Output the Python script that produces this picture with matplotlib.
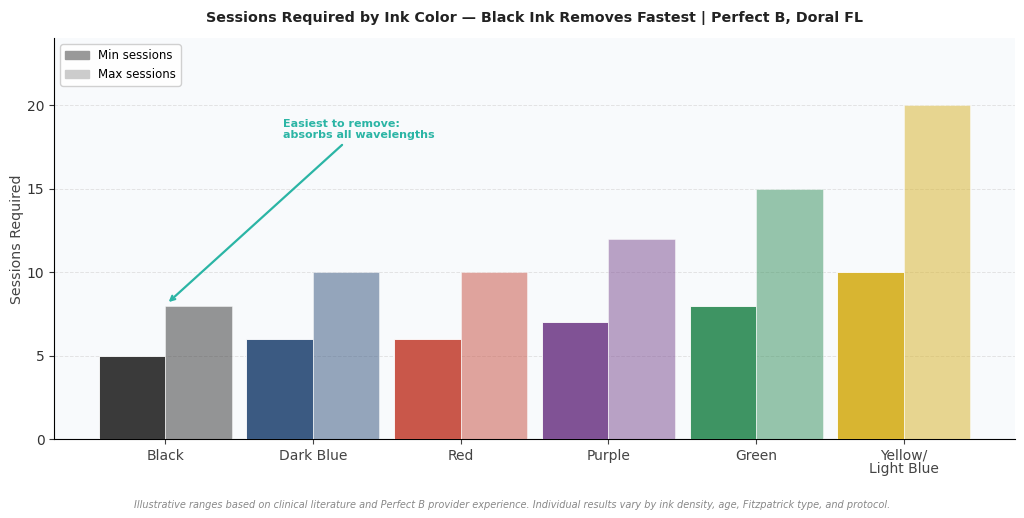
import numpy as np
import matplotlib.pyplot as plt
from matplotlib.patches import Patch

# Data
colors_ink = ['Black', 'Dark Blue', 'Red', 'Purple', 'Green', 'Yellow/\nLight Blue']
min_sessions = [5, 6, 6, 7, 8, 10]
max_sessions = [8, 10, 10, 12, 15, 20]
bar_colors = ['#3a3a3a', '#3b5a82', '#c9574a', '#805295', '#3e9463', '#d8b531']

fig, ax = plt.subplots(figsize=(10.24, 5.18), dpi=100)
fig.subplots_adjust(left=0.053, right=0.991, top=0.926, bottom=0.152)
ax.set_facecolor('#f8fafc')

x = np.arange(len(colors_ink))
w = 0.45
ax.bar(x - w / 2, min_sessions, w, color=bar_colors, edgecolor='white', linewidth=0.6, zorder=3)
ax.bar(x + w / 2, max_sessions, w, color=bar_colors, alpha=0.53, edgecolor='white', linewidth=0.6, zorder=3)

ax.set_xticks(x)
ax.set_xticklabels(colors_ink, fontsize=10, color='#444444')
for lbl in ax.get_xticklabels():
    lbl.set_linespacing(0.95)
ax.set_xlim(-0.75, 5.75)
ax.set_ylim(0, 24)
ax.set_yticks([0, 5, 10, 15, 20])
ax.tick_params(axis='y', labelsize=10, colors='#333333')
ax.tick_params(axis='x', colors='#444444')
ax.set_ylabel('Sessions Required', fontsize=10.2, color='#444444', labelpad=2)
ax.grid(axis='y', linestyle='--', color='#dddddd', linewidth=0.7, alpha=0.8, zorder=0)
ax.spines['top'].set_visible(False)
ax.spines['right'].set_visible(False)

ax.set_title('Sessions Required by Ink Color \u2014 Black Ink Removes Fastest | Perfect B, Doral FL',
             fontsize=10.3, fontweight='bold', color='#222222', pad=12)

handles = [Patch(color='#999999', label='Min sessions'), Patch(color='#cccccc', label='Max sessions')]
ax.legend(handles=handles, loc='upper left', fontsize=8.5, framealpha=0.9, handlelength=2)

ax.annotate('Easiest to remove:\nabsorbs all wavelengths', xy=(0.01, 8.1), xytext=(0.8, 17.9),
            fontsize=8, fontweight='bold', color='#2bb5a5', ha='left', va='bottom',
            arrowprops=dict(arrowstyle='->', color='#2bb5a5', lw=1.6))

fig.text(0.5, 0.02, 'Illustrative ranges based on clinical literature and Perfect B provider experience. '
         'Individual results vary by ink density, age, Fitzpatrick type, and protocol.',
         ha='center', fontsize=7, style='italic', color='#888888')

fig.savefig('out.png', dpi=100, facecolor='white')
